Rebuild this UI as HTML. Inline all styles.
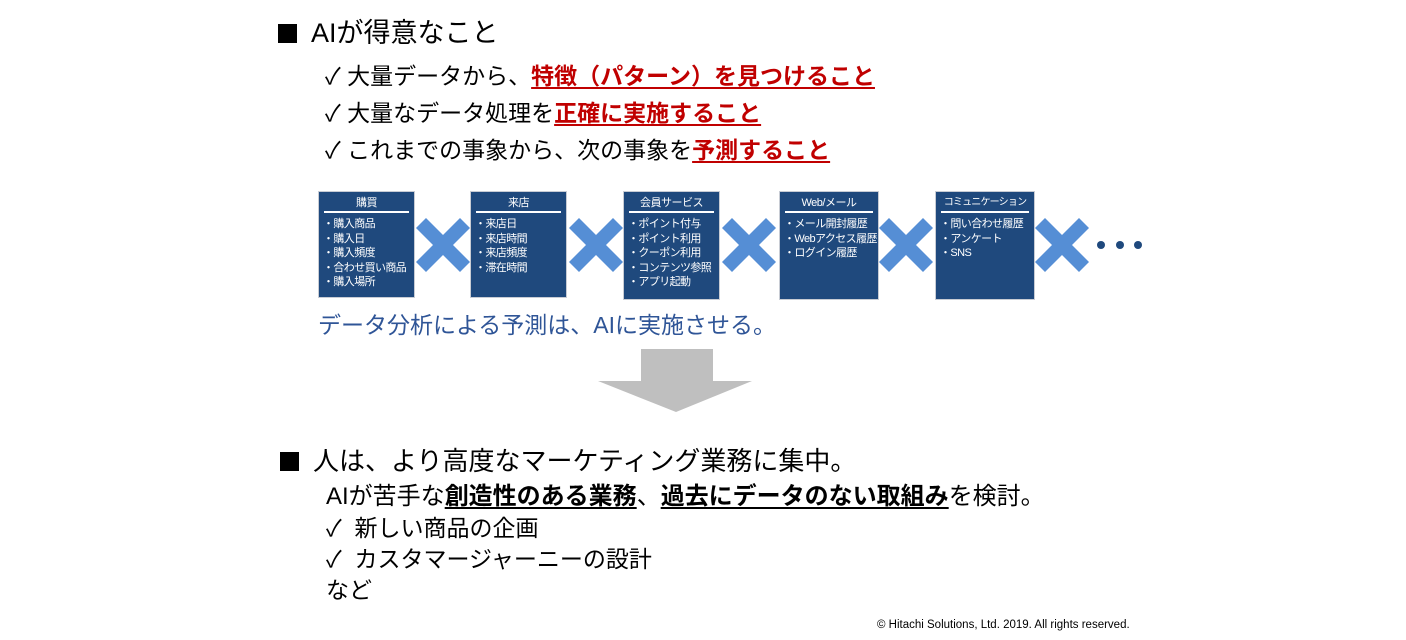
<!DOCTYPE html>
<html><head><meta charset="utf-8"><style>
body{margin:0;width:1406px;height:640px;background:#fff;position:relative;overflow:hidden;font-family:"Liberation Sans","Noto Sans CJK JP",sans-serif;color:#000}
.t{position:absolute;white-space:nowrap;line-height:1}
.red{color:#c00000;font-weight:bold;text-decoration:underline;text-underline-offset:3px}
.ub{font-weight:bold;text-decoration:underline;text-underline-offset:3px}
.box{position:absolute;top:191px;width:97px;height:107px;background:#1f497d;border:1px solid #c8ccd4;color:#fff;font-size:11px;box-sizing:border-box;overflow:hidden}
.box .h{text-align:center;margin-top:4px;height:14px;line-height:14px;letter-spacing:-0.5px}
.box .ln{height:2px;background:#fff;margin:1px 5px 4px 5px}
.box .it{padding-left:4px;line-height:14.5px;white-space:nowrap;letter-spacing:-0.6px}
.dot{position:absolute;top:241px;width:8px;height:8px;border-radius:50%;background:#1f497d}
.sq{display:inline-block;width:19px;height:19px;background:#000;margin-right:14px;vertical-align:-1px}
</style></head><body>
<div class="t" style="left:278px;top:20px;font-size:27px"><span class="sq"></span>AIが得意なこと</div>
<div class="t" style="left:325px;top:65px;font-size:23px">✓ 大量データから、<span class="red">特徴（パターン）を見つけること</span></div>
<div class="t" style="left:325px;top:102px;font-size:23px">✓ 大量なデータ処理を<span class="red">正確に実施すること</span></div>
<div class="t" style="left:325px;top:139px;font-size:23px">✓ これまでの事象から、次の事象を<span class="red">予測すること</span></div>

<div class="box" style="left:318px"><div class="h">購買</div><div class="ln"></div><div class="it">・購入商品<br>・購入日<br>・購入頻度<br>・合わせ買い商品<br>・購入場所</div></div>
<div class="box" style="left:470px"><div class="h">来店</div><div class="ln"></div><div class="it">・来店日<br>・来店時間<br>・来店頻度<br>・滞在時間</div></div>
<div class="box" style="left:623px;height:109px"><div class="h">会員サービス</div><div class="ln"></div><div class="it">・ポイント付与<br>・ポイント利用<br>・クーポン利用<br>・コンテンツ参照<br>・アプリ起動</div></div>
<div class="box" style="left:779px;width:100px;height:109px"><div class="h">Web/メール</div><div class="ln"></div><div class="it">・メール開封履歴<br>・Webアクセス履歴<br>・ログイン履歴</div></div>
<div class="box" style="left:935px;width:100px;height:109px"><div class="h" style="font-size:10px;letter-spacing:-0.8px">コミュニケーション</div><div class="ln"></div><div class="it">・問い合わせ履歴<br>・アンケート<br>・SNS</div></div>

<svg style="position:absolute;left:0;top:0" width="1406" height="640">
<defs><polygon id="x" points="0,10 10,0 27,17 44,0 54,10 37,27 54,44 44,54 27,37 10,54 0,44 17,27"/></defs>
<g fill="#558ed5">
<use href="#x" x="416" y="218"/>
<use href="#x" x="569" y="218"/>
<use href="#x" x="722" y="218"/>
<use href="#x" x="879" y="218"/>
<use href="#x" x="1035" y="218"/>
</g>
<polygon points="641,349 713,349 713,381 752,381 676,412 598,381 641,381" fill="#bfbfbf"/>
</svg>
<div class="dot" style="left:1097px"></div><div class="dot" style="left:1116px"></div><div class="dot" style="left:1134px"></div>

<div class="t" style="left:318px;top:314px;font-size:23px;color:#2f5597">データ分析による予測は、AIに実施させる。</div>

<div class="t" style="left:280px;top:448px;font-size:26px"><span class="sq" style="margin-right:14px"></span>人は、より高度なマーケティング業務に集中。</div>
<div class="t" style="left:326px;top:485px;font-size:24px">AIが苦手な<span class="ub">創造性のある業務</span>、<span class="ub">過去にデータのない取組み</span>を検討。</div>
<div class="t" style="left:326px;top:517px;font-size:23px">✓&nbsp; 新しい商品の企画</div>
<div class="t" style="left:326px;top:548px;font-size:23px">✓&nbsp; カスタマージャーニーの設計</div>
<div class="t" style="left:326px;top:579px;font-size:23px">など</div>
<div class="t" style="left:877px;top:620px;font-size:11.5px">© Hitachi Solutions, Ltd. 2019. All rights reserved.</div>
</body></html>
